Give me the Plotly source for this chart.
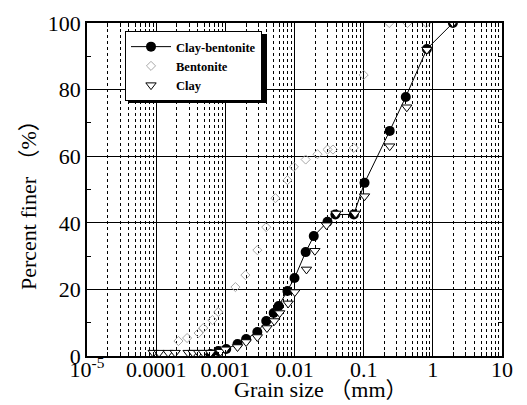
import plotly.graph_objects as go

# ---- data (grain size in mm, percent finer) ----
cb_d = [0.00061, 0.00079, 0.00103, 0.0015, 0.0020, 0.0029, 0.0039, 0.0050, 0.0059,
        0.0079, 0.0100, 0.0145, 0.019, 0.030, 0.039, 0.072, 0.103, 0.238, 0.406, 0.82, 1.95]
cb_p = [0.6, 1.5, 2.1, 3.6, 5.1, 7.2, 10.5, 12.9, 15.0,
        19.5, 23.4, 31.2, 36.0, 40.3, 42.5, 42.5, 52.0, 67.6, 77.8, 92.2, 100.0]

ben_d = [0.00021, 0.00028, 0.00041, 0.00048, 0.00065, 0.00079, 0.0014, 0.00195, 0.0029,
         0.0039, 0.0053, 0.0079, 0.0098, 0.0145, 0.0215, 0.030, 0.036, 0.072, 0.10,
         0.234, 0.43, 0.80]
ben_p = [4.5, 5.4, 6.9, 8.4, 10.8, 13.2, 20.7, 24.3, 31.8,
         38.7, 47.4, 52.8, 56.8, 59.0, 60.6, 62.0, 62.0, 62.5, 84.4,
         100.0, 100.0, 100.0]

clay_d = [0.0000905, 0.00011, 0.000149, 0.000188, 0.00029, 0.00034, 0.00041, 0.00048,
          0.00061, 0.00085, 0.0010, 0.0015, 0.0020, 0.0029, 0.0040, 0.0051, 0.0061,
          0.0081, 0.0101, 0.0149, 0.0197, 0.029, 0.040, 0.075, 0.103, 0.238, 0.42,
          0.82, 1.95]
clay_p = [1.0, 1.0, 1.0, 1.0, 1.0, 1.0, 1.0, 1.0,
          1.0, 1.3, 2.0, 2.7, 4.2, 5.7, 8.4, 10.5, 12.9,
          15.8, 19.2, 26.0, 31.6, 39.3, 42.8, 42.8, 48.0, 63.0, 74.7,
          92.0, 100.0]

x_tick_vals = [1e-5, 1e-4, 1e-3, 1e-2, 1e-1, 1, 10]
x_tick_text = ["10<sup>-5</sup>", "0.0001", "0.001", "0.01", "0.1", "1", "10"]
y_tick_vals = [0, 20, 40, 60, 80, 100]

SERIF = "Liberation Serif, Times New Roman, Noto Sans CJK JP, serif"

minor_x = [m * 10.0 ** e for e in range(-5, 1) for m in range(2, 10)]

# plot area in pixels: x 87..502, y 23..356
PW, PH = 415.0, 333.0

fig = go.Figure()
fig.add_trace(go.Scatter(
    x=ben_d, y=ben_p, mode="markers", name="Bentonite", legendrank=2,
    marker=dict(symbol="diamond-open", size=7, color="#a8a8a8", line=dict(width=1))))
fig.add_trace(go.Scatter(
    x=cb_d, y=cb_p, mode="lines+markers", name="Clay-bentonite", legendrank=1,
    line=dict(color="black", width=1),
    marker=dict(symbol="circle", size=10, color="black")))
fig.add_trace(go.Scatter(
    x=clay_d, y=clay_p, mode="markers", name="Clay", legendrank=3,
    marker=dict(symbol="triangle-down", size=9, color="white",
                line=dict(color="black", width=1))))

LX, LY = 38 / PW, 1 - 8 / PH
fig.update_layout(
    width=527, height=405,
    margin=dict(l=87, r=25, t=23, b=49),
    paper_bgcolor="white", plot_bgcolor="white",
    font=dict(family=SERIF, color="black"),
    showlegend=True,
    legend=dict(x=LX, y=LY, xanchor="left", yanchor="top",
                bgcolor="white", bordercolor="black", borderwidth=1,
                font=dict(family=SERIF, size=12.5, color="black", weight="bold"),
                tracegroupgap=0, itemwidth=40),
)

fig.update_xaxes(
    type="log", range=[-5, 1],
    tickmode="array", tickvals=x_tick_vals, ticktext=x_tick_text,
    tickfont=dict(family=SERIF, size=22, color="black"),
    ticklabelstandoff=-7,
    showgrid=True, gridcolor="black", gridwidth=1,
    ticks="inside", ticklen=6, tickcolor="black",
    showline=True, linecolor="black", linewidth=1.5, mirror="ticks",
    zeroline=False,
    minor=dict(tickvals=minor_x, showgrid=True, gridcolor="black", griddash="dot",
               gridwidth=1, ticks="inside", ticklen=4, tickcolor="black"),
)
fig.update_yaxes(
    range=[0, 100], tickmode="array", tickvals=y_tick_vals,
    tickfont=dict(family=SERIF, size=22, color="black"),
    showgrid=True, gridcolor="black", gridwidth=1,
    ticks="inside", ticklen=6, tickcolor="black",
    showline=True, linecolor="black", linewidth=1.5, mirror="ticks",
    zeroline=False,
    minor=dict(dtick=10, ticks="inside", ticklen=4, tickcolor="black", showgrid=False),
)

fig.add_annotation(text="Grain size （mm）", xref="paper", yref="paper",
                   x=(321 - 87) / PW, y=-(404 - 356) / PH, xanchor="center", yanchor="bottom",
                   showarrow=False, font=dict(family=SERIF, size=22, color="black"))
fig.add_annotation(text="Percent finer （%）", xref="paper", yref="paper",
                   x=(28 - 87) / PW, y=(356 - 200) / PH, xanchor="center", yanchor="middle",
                   textangle=-90,
                   showarrow=False, font=dict(family=SERIF, size=22, color="black"))

# legend drop shadow (legend box drawn on top of it)
fig.add_shape(type="rect", xref="paper", yref="paper", layer="above",
              x0=(128 - 87) / PW, x1=(267 - 87) / PW,
              y0=(356 - 103) / PH, y1=(356 - 34) / PH,
              fillcolor="black", line=dict(width=0))

fig.write_html("out.html")
